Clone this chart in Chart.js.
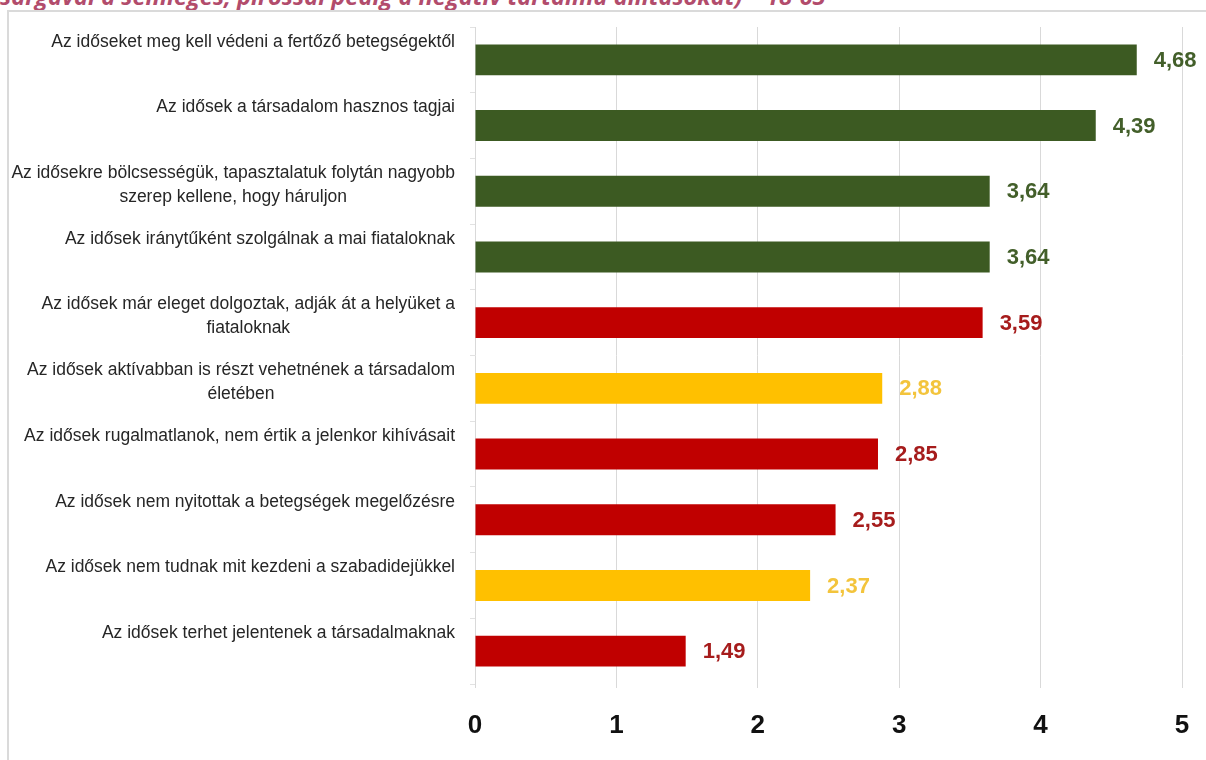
<!DOCTYPE html>
<html lang="hu">
<head>
<meta charset="utf-8">
<title>Idősekről szóló állítások</title>
<script src="https://cdn.jsdelivr.net/npm/chart.js@4.4.1/dist/chart.umd.min.js"></script>
<style>
  html, body { margin: 0; padding: 0; background: #fff; }
  body { width: 1206px; height: 760px; position: relative; overflow: hidden; }
  #caption {
    position: absolute; left: 0; top: -15px; white-space: nowrap;
    font: italic 700 23.6px/23px "Open Sans", "Noto Sans", sans-serif;
    color: #b24c6c;
  }
  #frame {
    position: absolute; left: 7px; top: 10px; width: 1300px; height: 900px;
    border: 2px solid #dadada; box-sizing: border-box;
  }
  #wrap { position: absolute; left: 0; top: 0; width: 1206px; height: 760px; }
</style>
</head>
<body>
<div id="caption">sárgával a semleges, pirossal pedig a negatív tartalmú állításokat)  – 18-65</div>
<div id="frame"></div>
<div id="wrap"><canvas id="chart" width="1206" height="760"></canvas></div>
<script>
// Statements (each as lines of the axis label)
const statements = [
  ["Az időseket meg kell védeni a fertőző betegségektől"],
  ["Az idősek a társadalom hasznos tagjai"],
  ["Az idősekre bölcsességük, tapasztalatuk folytán nagyobb", "szerep kellene, hogy háruljon"],
  ["Az idősek iránytűként szolgálnak a mai fiataloknak"],
  ["Az idősek már eleget dolgoztak, adják át a helyüket a", "fiataloknak"],
  ["Az idősek aktívabban is részt vehetnének a társadalom", "életében"],
  ["Az idősek rugalmatlanok, nem értik a jelenkor kihívásait"],
  ["Az idősek nem nyitottak a betegségek megelőzésre"],
  ["Az idősek nem tudnak mit kezdeni a szabadidejükkel"],
  ["Az idősek terhet jelentenek a társadalmaknak"]
];

// Mean agreement score (1–5)
const scores = [4.68, 4.39, 3.64, 3.64, 3.59, 2.88, 2.85, 2.55, 2.37, 1.49];

// Tone of each statement: positive, neutral, negative
const tones = ["pos", "pos", "pos", "pos", "neg", "neu", "neg", "neg", "neu", "neg"];

const xTicks = [0, 1, 2, 3, 4, 5];

const barColors = { pos: "#3c5a22", neu: "#ffc000", neg: "#c00000" };
const labelColors = { pos: "#435f2a", neu: "#f3c43c", neg: "#a61c1c" };

// Category labels: block right-aligned to the axis, lines centred within the block,
// first line sitting in the upper part of each row
const statementLabels = {
  id: "statementLabels",
  afterDraw(chart) {
    const ctx = chart.ctx;
    const y = chart.scales.y;
    const right = y.right - 20;
    const lineH = 24;
    ctx.save();
    ctx.font = '17.5px "Liberation Sans", Arial, sans-serif';
    ctx.fillStyle = "#262626";
    ctx.textAlign = "center";
    ctx.textBaseline = "middle";
    statements.forEach((lines, i) => {
      const cy = y.getPixelForTick(i);
      const w = Math.max(...lines.map(l => ctx.measureText(l).width));
      const cx = right - w / 2;
      lines.forEach((l, k) => ctx.fillText(l, cx, cy - 18 + k * lineH));
    });
    ctx.restore();
  }
};

const valueLabels = {
  id: "valueLabels",
  afterDatasetsDraw(chart) {
    const ctx = chart.ctx;
    const meta = chart.getDatasetMeta(0);
    ctx.save();
    ctx.font = 'bold 22px "Liberation Sans", Arial, sans-serif';
    ctx.textAlign = "left";
    ctx.textBaseline = "middle";
    meta.data.forEach((bar, i) => {
      ctx.fillStyle = labelColors[tones[i]];
      ctx.fillText(scores[i].toFixed(2).replace(".", ","), bar.x + 17, bar.y + 1);
    });
    ctx.restore();
  }
};

new Chart(document.getElementById("chart"), {
  type: "bar",
  data: {
    labels: statements.map(l => l.join(" ")),
    datasets: [{
      data: scores,
      backgroundColor: tones.map(t => barColors[t]),
      borderWidth: 0,
      barPercentage: 0.47,
      categoryPercentage: 1.0
    }]
  },
  options: {
    indexAxis: "y",
    responsive: false,
    animation: false,
    devicePixelRatio: 1,
    layout: { autoPadding: false, padding: { left: 0, right: 24, top: 27, bottom: 0 } },
    plugins: { legend: { display: false }, tooltip: { enabled: false } },
    scales: {
      x: {
        min: 0, max: 5,
        afterBuildTicks(scale) { scale.ticks = xTicks.map(v => ({ value: v })); },
        afterFit(scale) {
          scale.height = 76;
          scale.paddingLeft = 0;
          scale.paddingRight = 0;
        },
        border: { display: false },
        grid: { color: "#d9d9d9", lineWidth: 1, drawTicks: true, tickLength: 4, tickColor: "#d9d9d9" },
        ticks: {
          padding: 22,
          color: "#111",
          font: { family: '"Liberation Sans", Arial, sans-serif', size: 26, weight: "bold" },
          callback: v => String(v)
        }
      },
      y: {
        afterFit(scale) { scale.width = 475; },
        border: { display: false },
        grid: { drawOnChartArea: false, drawTicks: true, tickLength: 5, tickColor: "#e2e2e2" },
        ticks: { display: false }
      }
    }
  },
  plugins: [valueLabels, statementLabels]
});
</script>
</body>
</html>
